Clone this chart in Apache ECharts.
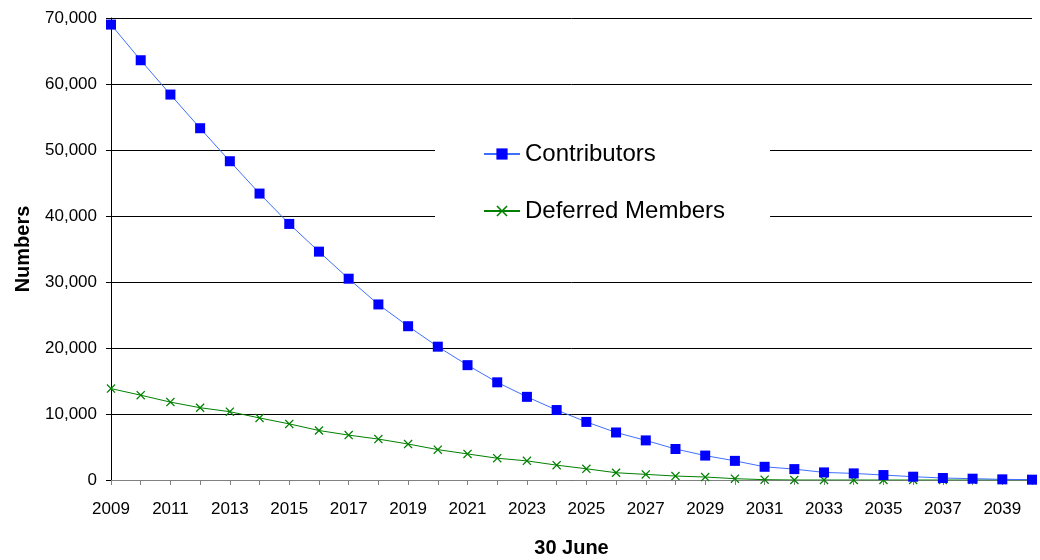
<!DOCTYPE html>
<html>
<head>
<meta charset="utf-8">
<script src="https://cdn.jsdelivr.net/npm/echarts@6/dist/echarts.min.js"></script>
<style>
  html, body { margin: 0; padding: 0; background: #fff; }
  #main { width: 1040px; height: 560px; }
</style>
</head>
<body>
<div id="main"></div>
<script>
// years on 30 June
let years = [];
for (let y = 2009; y <= 2040; y++) years.push(String(y));

let contributors = [69000, 63600, 58400, 53300, 48300, 43400, 38800, 34600, 30500, 26600,
    23300, 20200, 17400, 14800, 12600, 10600, 8800, 7200, 6000, 4700,
    3700, 2900, 2000, 1650, 1150, 1000, 750, 500, 300, 200, 100, 50];
let deferred = [13850, 12850, 11800, 10950, 10350, 9400, 8500, 7500, 6800, 6200,
    5450, 4600, 3950, 3300, 2900, 2250, 1700, 1100, 850, 600,
    450, 200, 50, 0, 0, 0, 0, 0, 0, 0, 0, 0];

let xMark = "path://M0,1L1,0L5,4L9,0L10,1L6,5L10,9L9,10L5,6L1,10L0,9L4,5Z";
let font = "Liberation Sans, Arial, sans-serif";

let dom = document.getElementById("main");
let myChart = echarts.init(dom, null, { renderer: "canvas" });

let option = {
    animation: false,
    textStyle: { fontFamily: font },
    grid: { left: 111, right: 8, top: 18, bottom: 80, outerBoundsMode: "none" },
    legend: {
        orient: "vertical",
        left: 435,
        top: 122,
        padding: [20, 45, 20, 48],
        backgroundColor: "#fff",
        itemWidth: 36,
        itemHeight: 14,
        itemGap: 33,
        textStyle: { fontSize: 24, color: "#000", fontFamily: font },
        data: ["Contributors", "Deferred Members"],
    },
    xAxis: {
        type: "category",
        data: years,
        boundaryGap: false,
        name: "30 June",
        nameLocation: "middle",
        nameGap: 58,
        nameTextStyle: { fontSize: 20, fontWeight: "bold", color: "#000" },
        axisLine: { lineStyle: { color: "#808080", width: 1 } },
        axisTick: { interval: 0, length: 5, lineStyle: { color: "#808080" } },
        axisLabel: { interval: 1, fontSize: 17, color: "#000", margin: 21 },
    },
    yAxis: {
        type: "value",
        min: 0,
        max: 70000,
        interval: 10000,
        name: "Numbers",
        nameLocation: "middle",
        nameGap: 78,
        nameTextStyle: { fontSize: 20, fontWeight: "bold", color: "#000" },
        axisLine: { show: true, lineStyle: { color: "#000" } },
        axisTick: { show: true, length: 5, lineStyle: { color: "#000" } },
        axisLabel: {
            fontSize: 17,
            color: "#000",
            margin: 14,
            formatter: (v) => v.toLocaleString("en-US"),
        },
        splitLine: { lineStyle: { color: "#000", width: 1 } },
    },
    series: [{
        name: "Contributors",
        type: "line",
        data: contributors,
        symbol: "rect",
        symbolSize: 10,
        lineStyle: { color: "#3f6fff", width: 1 },
        itemStyle: { color: "#0000ff" },
        z: 3,
    }, {
        name: "Deferred Members",
        type: "line",
        data: deferred,
        symbol: xMark,
        symbolSize: 9,
        lineStyle: { color: "#008000", width: 1 },
        itemStyle: { color: "#008000" },
        z: 2,
    }],
};

myChart.setOption(option);
window.addEventListener("resize", myChart.resize);
</script>
</body>
</html>
